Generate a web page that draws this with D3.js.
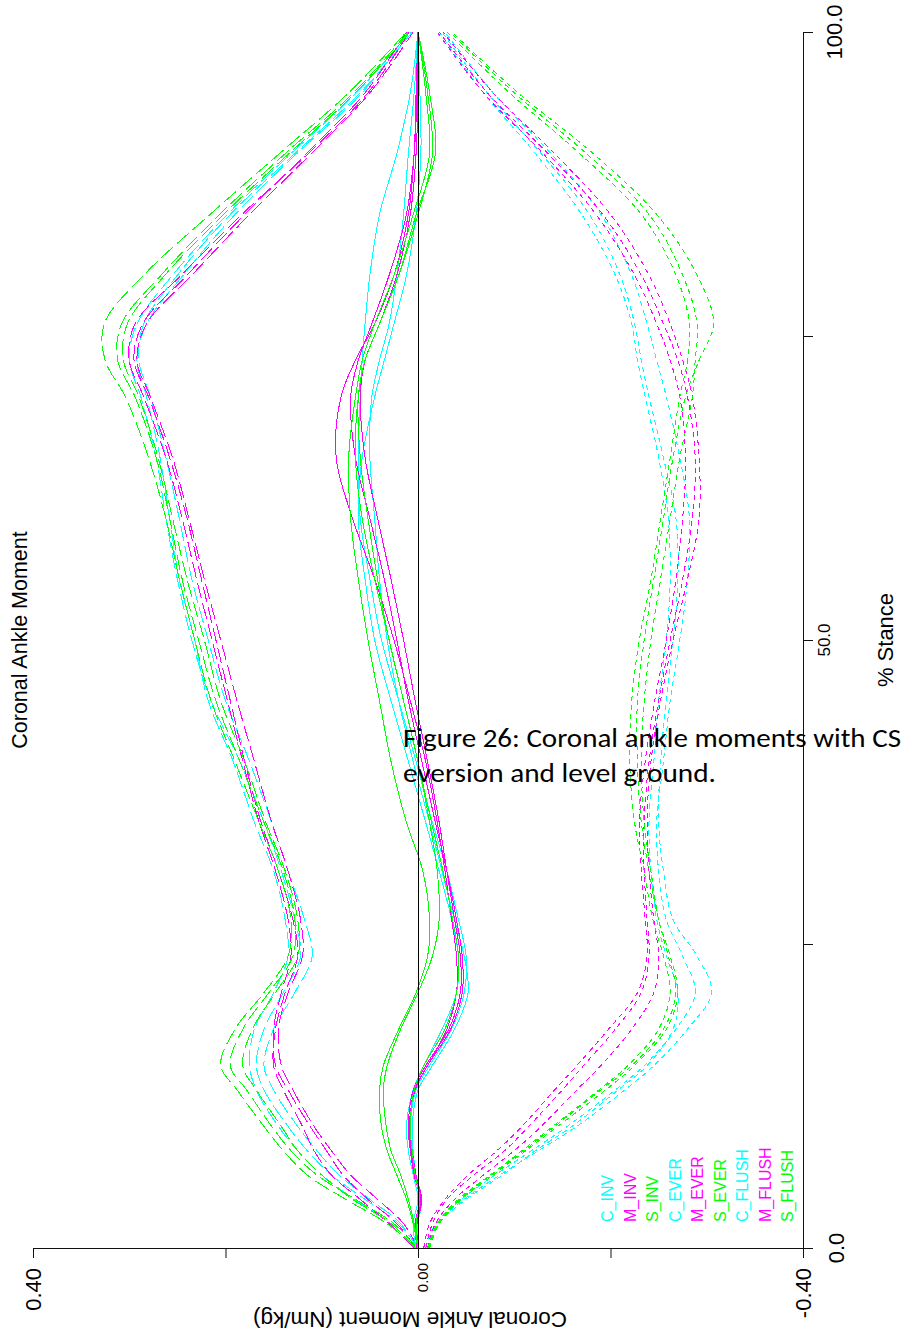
<!DOCTYPE html>
<html><head><meta charset="utf-8">
<script src="https://cdn.jsdelivr.net/npm/d3@7"></script>
<style>html,body{margin:0;padding:0;background:#fff;} svg{display:block;}</style>
</head><body>
<svg id="chart" width="903" height="1338"></svg>
<script>
// % stance sample points
const stance = [0,2,4,6,8,10,13,15,18,21,24,27,31,35,40,45,50,55,60,65,70,73,76,80,85,90,95,100];

// Coronal ankle moment (Nm/kg), three trials per condition
const C_INV = [
 [0.000,0.020,0.055,0.090,0.115,0.135,0.160,0.168,0.160,0.140,0.122,0.128,0.142,0.160,0.185,0.215,0.235,0.250,0.262,0.272,0.288,0.300,0.292,0.255,0.198,0.132,0.064,0.008],
 [0.003,0.028,0.066,0.100,0.125,0.145,0.168,0.175,0.170,0.150,0.135,0.138,0.150,0.170,0.192,0.218,0.232,0.248,0.258,0.268,0.282,0.292,0.282,0.244,0.190,0.126,0.058,0.010],
 [0.001,0.018,0.050,0.082,0.105,0.125,0.150,0.160,0.150,0.128,0.110,0.118,0.135,0.152,0.175,0.200,0.218,0.235,0.248,0.262,0.278,0.290,0.285,0.250,0.195,0.128,0.060,0.006]];
const M_INV = [
 [0.004,0.030,0.060,0.090,0.108,0.120,0.140,0.150,0.148,0.138,0.125,0.130,0.145,0.163,0.180,0.195,0.210,0.225,0.240,0.258,0.280,0.295,0.286,0.240,0.180,0.116,0.055,0.012],
 [0.002,0.022,0.052,0.078,0.095,0.112,0.135,0.148,0.150,0.142,0.132,0.135,0.148,0.165,0.182,0.198,0.214,0.230,0.245,0.262,0.285,0.300,0.294,0.246,0.183,0.114,0.052,0.009],
 [0.000,0.015,0.042,0.070,0.090,0.108,0.130,0.142,0.145,0.135,0.120,0.122,0.135,0.152,0.170,0.188,0.205,0.222,0.238,0.255,0.278,0.292,0.282,0.235,0.175,0.111,0.050,0.005]];
const S_INV = [
 [0.002,0.032,0.075,0.115,0.140,0.160,0.188,0.205,0.190,0.160,0.135,0.132,0.145,0.165,0.190,0.215,0.232,0.248,0.262,0.280,0.304,0.325,0.326,0.285,0.216,0.144,0.072,0.012],
 [0.001,0.025,0.065,0.105,0.132,0.152,0.178,0.195,0.182,0.155,0.130,0.128,0.140,0.160,0.185,0.210,0.228,0.245,0.258,0.272,0.294,0.312,0.308,0.267,0.206,0.138,0.067,0.010],
 [0.003,0.028,0.068,0.100,0.125,0.142,0.168,0.182,0.172,0.148,0.125,0.125,0.138,0.158,0.180,0.205,0.222,0.240,0.255,0.270,0.290,0.306,0.302,0.263,0.202,0.134,0.065,0.008]];
const C_EVER = [
 [-0.010,-0.020,-0.048,-0.085,-0.125,-0.165,-0.215,-0.245,-0.280,-0.305,-0.290,-0.265,-0.255,-0.250,-0.252,-0.258,-0.265,-0.270,-0.268,-0.255,-0.240,-0.232,-0.225,-0.210,-0.178,-0.128,-0.072,-0.025],
 [-0.008,-0.018,-0.045,-0.080,-0.118,-0.155,-0.205,-0.235,-0.268,-0.288,-0.275,-0.258,-0.250,-0.248,-0.255,-0.262,-0.272,-0.280,-0.282,-0.272,-0.258,-0.248,-0.238,-0.222,-0.190,-0.138,-0.078,-0.028],
 [-0.012,-0.022,-0.050,-0.088,-0.122,-0.160,-0.208,-0.238,-0.265,-0.270,-0.258,-0.248,-0.242,-0.240,-0.245,-0.250,-0.258,-0.262,-0.260,-0.250,-0.236,-0.228,-0.222,-0.205,-0.170,-0.122,-0.068,-0.022]];
const M_EVER = [
 [-0.008,-0.015,-0.030,-0.058,-0.090,-0.115,-0.150,-0.172,-0.205,-0.232,-0.240,-0.238,-0.235,-0.235,-0.240,-0.250,-0.262,-0.275,-0.285,-0.288,-0.280,-0.270,-0.255,-0.232,-0.192,-0.135,-0.072,-0.022],
 [-0.006,-0.012,-0.028,-0.052,-0.082,-0.108,-0.142,-0.165,-0.198,-0.228,-0.238,-0.236,-0.232,-0.230,-0.236,-0.246,-0.258,-0.268,-0.275,-0.278,-0.272,-0.262,-0.248,-0.225,-0.185,-0.130,-0.068,-0.020],
 [-0.010,-0.018,-0.038,-0.068,-0.100,-0.128,-0.165,-0.190,-0.222,-0.245,-0.250,-0.245,-0.240,-0.238,-0.242,-0.252,-0.265,-0.280,-0.292,-0.292,-0.285,-0.275,-0.262,-0.240,-0.200,-0.142,-0.078,-0.026]];
const S_EVER = [
 [-0.012,-0.022,-0.045,-0.078,-0.112,-0.145,-0.195,-0.225,-0.258,-0.270,-0.262,-0.250,-0.240,-0.232,-0.228,-0.228,-0.235,-0.245,-0.255,-0.265,-0.278,-0.292,-0.307,-0.290,-0.248,-0.182,-0.104,-0.035],
 [-0.010,-0.020,-0.042,-0.075,-0.108,-0.140,-0.188,-0.218,-0.250,-0.262,-0.255,-0.244,-0.235,-0.225,-0.220,-0.222,-0.230,-0.242,-0.252,-0.262,-0.272,-0.280,-0.282,-0.268,-0.232,-0.168,-0.095,-0.030],
 [-0.011,-0.021,-0.044,-0.076,-0.110,-0.142,-0.190,-0.222,-0.255,-0.268,-0.260,-0.250,-0.242,-0.235,-0.232,-0.235,-0.242,-0.252,-0.262,-0.272,-0.285,-0.288,-0.290,-0.275,-0.240,-0.175,-0.100,-0.033]];
const C_FLUSH = [
 [0.000,0.003,-0.003,0.003,0.006,0.008,0.002,-0.012,-0.035,-0.048,-0.050,-0.042,-0.030,-0.015,0.002,0.020,0.038,0.050,0.060,0.062,0.060,0.058,0.055,0.050,0.040,0.022,0.008,0.000],
 [0.000,0.000,-0.004,0.002,0.005,0.006,0.000,-0.015,-0.038,-0.052,-0.048,-0.038,-0.025,-0.012,0.005,0.020,0.032,0.040,0.045,0.050,0.048,0.040,0.030,0.022,0.015,0.010,0.004,0.000],
 [0.002,0.005,0.000,0.005,0.010,0.012,0.005,-0.006,-0.025,-0.040,-0.042,-0.035,-0.022,-0.008,0.010,0.028,0.045,0.055,0.062,0.058,0.045,0.035,0.025,0.012,0.002,-0.003,-0.002,0.000]];
const M_FLUSH = [
 [0.000,0.002,-0.003,0.002,0.006,0.008,0.004,-0.010,-0.030,-0.040,-0.040,-0.035,-0.028,-0.020,-0.008,0.008,0.025,0.045,0.068,0.085,0.080,0.065,0.045,0.025,0.010,0.004,0.002,0.000],
 [0.001,0.003,-0.002,0.004,0.008,0.010,0.005,-0.008,-0.032,-0.044,-0.044,-0.038,-0.030,-0.022,-0.010,0.003,0.015,0.028,0.042,0.055,0.060,0.055,0.040,0.022,0.008,0.002,0.000,-0.001],
 [0.000,0.001,-0.004,0.003,0.007,0.009,0.003,-0.010,-0.034,-0.046,-0.046,-0.040,-0.030,-0.018,-0.004,0.010,0.022,0.035,0.050,0.065,0.070,0.062,0.048,0.030,0.012,0.004,0.001,0.000]];
const S_FLUSH = [
 [0.000,0.005,0.012,0.022,0.032,0.038,0.040,0.036,0.020,0.002,-0.010,-0.012,-0.005,0.012,0.028,0.040,0.052,0.062,0.070,0.072,0.065,0.058,0.045,0.025,0.005,-0.012,-0.008,0.000],
 [0.000,0.004,0.010,0.018,0.028,0.033,0.036,0.032,0.018,0.000,-0.015,-0.022,-0.020,-0.012,0.000,0.015,0.030,0.045,0.058,0.065,0.062,0.055,0.040,0.020,0.000,-0.015,-0.010,0.000],
 [0.000,0.002,-0.002,0.003,0.006,0.008,0.004,-0.006,-0.028,-0.040,-0.042,-0.036,-0.026,-0.014,0.000,0.015,0.030,0.042,0.052,0.060,0.062,0.055,0.040,0.020,0.002,-0.018,-0.012,0.000]];

const conditions = ["C_INV","M_INV","S_INV","C_EVER","M_EVER","S_EVER","C_FLUSH","M_FLUSH","S_FLUSH"];
const trialData = {C_INV, M_INV, S_INV, C_EVER, M_EVER, S_EVER, C_FLUSH, M_FLUSH, S_FLUSH};

const stanceTicks = [0, 25, 50, 75, 100];
const stanceTickLabels = ["0.0", "", "50.0", "", "100.0"];
const momentTicks = [0.4, 0.2, 0, -0.2, -0.4];
const momentTickLabels = ["0.40", "", "0.00", "", "-0.40"];

// ---------- styling / layout ----------
const colorOf = {C: "#00FFFF", M: "#FF00FF", S: "#00FF00"};
const dashOf = {INV: "16,5", EVER: "5,4", FLUSH: null};
const sans = "'Liberation Sans', Arial, sans-serif";

const svg = d3.select("#chart");
const y = d3.scaleLinear().domain([0, 100]).range([1248, 32]);     // % stance, vertical
const x = d3.scaleLinear().domain([0.4, -0.4]).range([33, 803]);   // moment, horizontal

const line = d3.line()
  .x(d => x(d[1]))
  .y(d => y(d[0]))
  .curve(d3.curveCatmullRom);

const curves = svg.append("g");
conditions.forEach(name => {
  const [who, surf] = name.split("_");
  trialData[name].forEach(vals => {
    const pts = stance.map((s, i) => [s, vals[i]]);
    curves.append("path")
      .attr("d", line(pts))
      .attr("fill", "none")
      .attr("stroke", colorOf[who])
      .attr("stroke-width", 1)
      .attr("stroke-dasharray", dashOf[surf])
      .attr("shape-rendering", "crispEdges");
  });
});

// zero line
svg.append("line")
  .attr("x1", x(0) + 0.5).attr("x2", x(0) + 0.5)
  .attr("y1", y(100)).attr("y2", y(0))
  .attr("stroke", "#000").attr("stroke-width", 1);

// stance axis (right side)
const stanceAxis = svg.append("g")
  .attr("transform", "translate(803,0)")
  .call(d3.axisRight(y).tickValues(stanceTicks).tickSize(10).tickSizeOuter(0).tickFormat(""));
// moment axis (bottom)
const momentAxis = svg.append("g")
  .attr("transform", "translate(0,1248)")
  .call(d3.axisBottom(x).tickValues(momentTicks).tickSize(10).tickSizeOuter(0).tickFormat(""));
[stanceAxis, momentAxis].forEach(g => {
  g.selectAll("path,line").attr("stroke", "#111").attr("stroke-width", 1);
});

// stance tick labels (rotated)
const stanceLabelSize = [22, 17, 17, 17, 22];
const stanceLabelBase = [844, 830, 830, 830, 842];
stanceTicks.forEach((t, i) => {
  if (!stanceTickLabels[i]) return;
  svg.append("text")
    .attr("transform", `translate(${stanceLabelBase[i]},${y(t)}) rotate(-90)`)
    .attr("text-anchor", "middle")
    .attr("font-family", sans).attr("font-size", stanceLabelSize[i])
    .attr("fill", "#000")
    .text(stanceTickLabels[i]);
});

// moment tick labels (rotated)
const momentLabelSize = [22, 15, 15, 15, 22];
const momentLabelBase = [41, 0, 428, 0, 811];
momentTicks.forEach((t, i) => {
  if (!momentTickLabels[i]) return;
  svg.append("text")
    .attr("transform", `translate(${momentLabelBase[i]},${i === 2 ? 1263 : 1268}) rotate(-90)`)
    .attr("text-anchor", "end")
    .attr("font-family", sans).attr("font-size", momentLabelSize[i])
    .attr("fill", "#000")
    .text(momentTickLabels[i]);
});

// titles
svg.append("text")
  .attr("transform", "translate(27,640) rotate(-90)")
  .attr("text-anchor", "middle")
  .attr("font-family", sans).attr("font-size", 21.5)
  .text("Coronal Ankle Moment");
svg.append("text")
  .attr("transform", "translate(893,640) rotate(-90)")
  .attr("text-anchor", "middle")
  .attr("font-family", sans).attr("font-size", 22)
  .text("% Stance");
svg.append("text")
  .attr("transform", "translate(410,1312) rotate(180)")
  .attr("text-anchor", "middle")
  .attr("font-family", sans).attr("font-size", 22.5)
  .text("Coronal Ankle Moment (Nm/kg)");

// legend
conditions.forEach((name, i) => {
  svg.append("text")
    .attr("transform", `translate(${613 + 22.5 * i},1222) rotate(-90)`)
    .attr("text-anchor", "start")
    .attr("font-family", sans).attr("font-size", 16)
    .attr("fill", colorOf[name.split("_")[0]])
    .text(name);
});

// caption overlay
const capFont = "Carlito, Calibri, Lato, sans-serif";
svg.append("text")
  .attr("x", 403).attr("y", 747)
  .attr("font-family", capFont).attr("font-size", 27)
  .attr("textLength", 498).attr("lengthAdjust", "spacingAndGlyphs")
  .attr("fill", "#000")
  .text("Figure 26: Coronal ankle moments with CS");
svg.append("text")
  .attr("x", 403).attr("y", 782)
  .attr("font-family", capFont).attr("font-size", 27)
  .attr("textLength", 313).attr("lengthAdjust", "spacingAndGlyphs")
  .attr("fill", "#000")
  .text("eversion and level ground.");
</script>
</body></html>
